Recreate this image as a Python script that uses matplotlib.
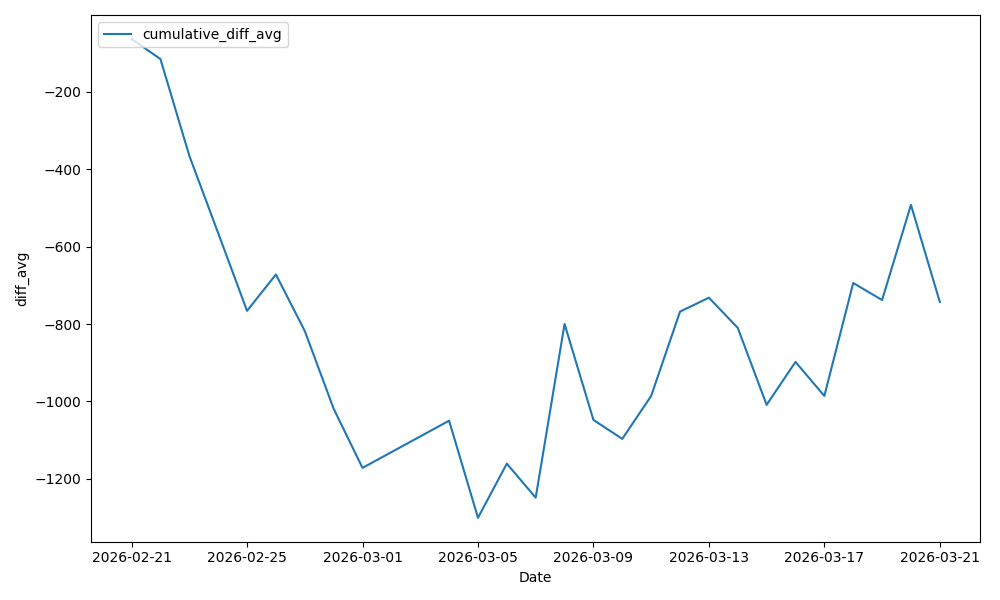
import matplotlib
matplotlib.use("Agg")
import matplotlib.pyplot as plt
import pandas as pd

dates = [
    "2026-02-21", "2026-02-22", "2026-02-23", "2026-02-24", "2026-02-25",
    "2026-02-26", "2026-02-27", "2026-02-28", "2026-03-01", "2026-03-04",
    "2026-03-05", "2026-03-06", "2026-03-07", "2026-03-08", "2026-03-09",
    "2026-03-10", "2026-03-11", "2026-03-12", "2026-03-13", "2026-03-14",
    "2026-03-15", "2026-03-16", "2026-03-17", "2026-03-18", "2026-03-19",
    "2026-03-20", "2026-03-21",
]
cumulative_diff_avg = [
    -63, -115, -365, -565, -766,
    -672, -818, -1019, -1172, -1050,
    -1301, -1161, -1249, -800, -1048,
    -1097, -986, -768, -732, -810,
    -1009, -898, -986, -694, -738,
    -492, -743,
]

df = pd.DataFrame({"Date": pd.to_datetime(dates), "cumulative_diff_avg": cumulative_diff_avg})

fig, ax = plt.subplots(figsize=(10, 6), dpi=100)
ax.plot(df["Date"], df["cumulative_diff_avg"], label="cumulative_diff_avg")
ax.set_xticks(pd.date_range("2026-02-21", "2026-03-21", freq="4D"))
ax.xaxis.set_major_formatter(matplotlib.dates.DateFormatter("%Y-%m-%d"))
ax.set_xlabel("Date")
ax.set_ylabel("diff_avg")
ax.legend(loc="upper left")
fig.tight_layout()
fig.savefig("out.png")
